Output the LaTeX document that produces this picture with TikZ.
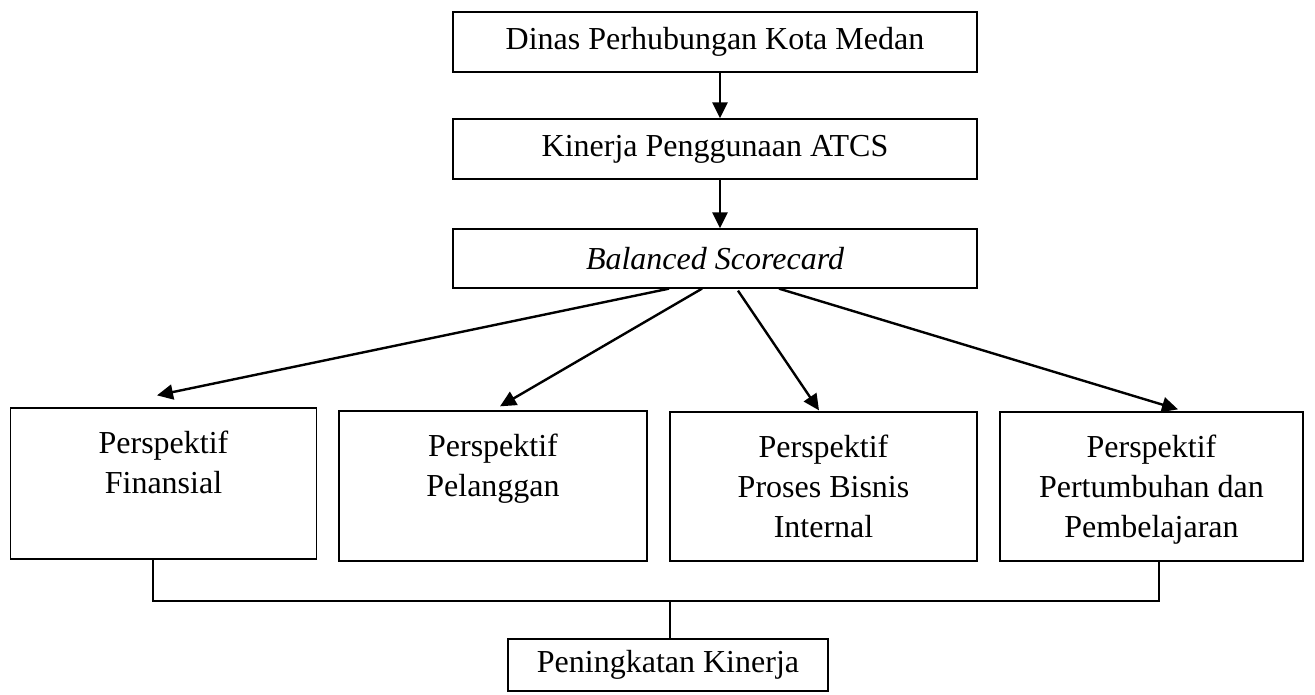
\documentclass[tikz,border=0pt]{standalone}
\usepackage{fontspec}
\setmainfont{Liberation Serif}
\usetikzlibrary{arrows.meta,calc}
\begin{document}
\begin{tikzpicture}[x=1pt,y=-1pt,
  box/.style={draw,line width=1.3pt,inner sep=0pt,font={\fontsize{32}{40}\selectfont}},
  ptext/.style={inner sep=0pt,align=center,anchor=north,font={\fontsize{32}{40}\selectfont}},
  arr/.style={line width=2.4pt,-{Triangle[length=16pt,width=15pt]}},
  lnk/.style={line width=1.5pt}]
\useasboundingbox[fill=white] (0,0) rectangle (1315,695);
\node[box,minimum width=524pt,minimum height=60pt] (top) at (715,42) {Dinas Perhubungan Kota Medan};
\node[box,minimum width=524pt,minimum height=60pt] (atcs) at (715,149) {Kinerja Penggunaan ATCS};
\node[box,minimum width=524pt,minimum height=59pt] (bsc) at (715,258.5) {\itshape Balanced Scorecard};
\node[box,minimum width=306pt,minimum height=151pt] (f) at (163.5,483.5) {};
\node[box,minimum width=308pt,minimum height=150pt] (p) at (493,486) {};
\node[box,minimum width=307pt,minimum height=149pt] (i) at (823.5,486.5) {};
\node[box,minimum width=303pt,minimum height=149pt] (g) at (1151.5,486.5) {};
\node[ptext] (ft) at ([yshift=-23pt]f.north) {Perspektif\\Finansial};
\node[ptext] (pt) at ([yshift=-23pt]p.north) {Perspektif\\Pelanggan};
\node[ptext] (it) at ([yshift=-23pt]i.north) {Perspektif\\Proses Bisnis\\Internal};
\node[ptext] (gt) at ([yshift=-23pt]g.north) {Perspektif\\Pertumbuhan dan\\Pembelajaran};
\node[box,minimum width=320pt,minimum height=52pt] (pk) at (668,665) {Peningkatan Kinerja};
\draw[arr] ([xshift=5pt]top.south) -- ([xshift=5pt]atcs.north);
\draw[arr] ([xshift=5pt]atcs.south) -- ([xshift=5pt]bsc.north);
\draw[arr] ([xshift=-46pt]bsc.south) -- ([xshift=-6.5pt,yshift=12pt]f.north);
\draw[arr] ([xshift=-13pt]bsc.south) -- ([xshift=7pt,yshift=4pt]p.north);
\draw[arr] ([xshift=23pt,yshift=-2pt]bsc.south) -- ([xshift=-4.5pt,yshift=1pt]i.north);
\draw[arr] ([xshift=64pt]bsc.south) -- ([xshift=26.5pt,yshift=2pt]g.north);
\coordinate (j) at (670,601);
\draw[lnk] ([xshift=-10.5pt]f.south) |- (j) -| ([xshift=7.5pt]g.south);
\draw[lnk] (j) -- ([xshift=2pt]pk.north);
\end{tikzpicture}
\end{document}
